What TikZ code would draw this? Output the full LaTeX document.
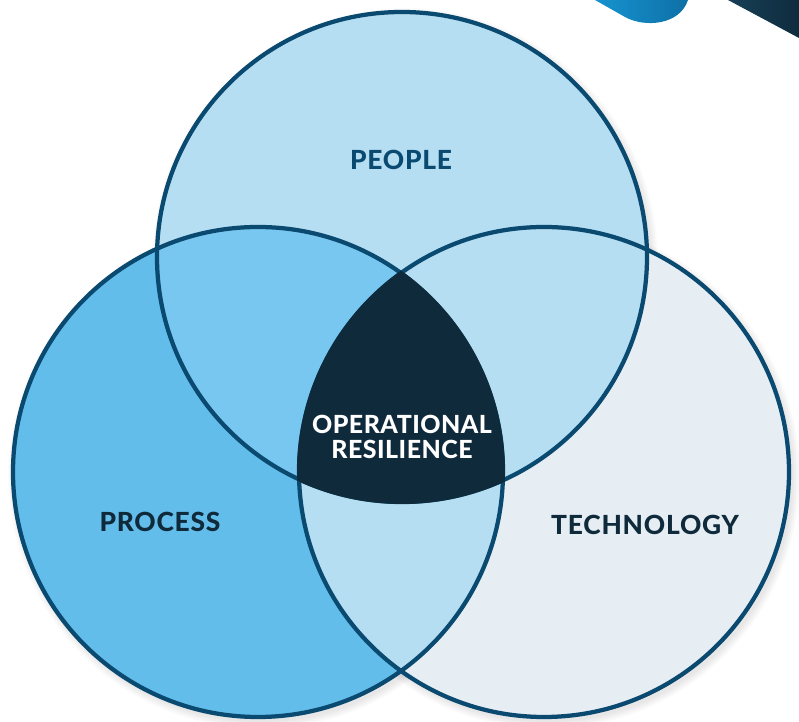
\documentclass[tikz,border=0pt]{standalone}
\usepackage{fontspec}
\setmainfont{Lato}[BoldFont={Lato Heavy}]
\usetikzlibrary{positioning}
\definecolor{ringline}{HTML}{0B4A70}
\definecolor{peoplefill}{HTML}{B5DEF3}
\definecolor{processfill}{HTML}{63BDEB}
\definecolor{techfill}{HTML}{E6EEF3}
\definecolor{pairfill}{HTML}{77C7F0}
\definecolor{corefill}{HTML}{0E2A3B}
\definecolor{labeldark}{HTML}{0F2A3A}
\definecolor{accentA}{HTML}{1693D0}
\definecolor{accentB}{HTML}{0E70A6}
\definecolor{navyA}{HTML}{173F57}
\definecolor{navyB}{HTML}{0F2C3D}
\tikzset{
  ring/.style={draw=ringline, line width=0.085cm},
  setlabel/.style={font=\bfseries\fontsize{15}{16}\selectfont\addfontfeatures{LetterSpace=3}, text=labeldark, inner sep=0pt},
  corelabel/.style={font=\bfseries\fontsize{14.2}{14.2}\selectfont\addfontfeatures{LetterSpace=2}, text=white, align=center, inner sep=0pt}
}

\begin{document}
\begin{tikzpicture}[x=0.02cm, y=-0.02cm]
\useasboundingbox (0,0) rectangle (799,722);
\def\rr{245}
\coordinate (cP) at (402,257);
\coordinate (cR) at (258,472);
\coordinate (cT) at (544,472);
% corner accents (top right)
\shade[left color=accentA, right color=accentB] (595,0) -- (625,17) .. controls (645,28) and (680,25) .. (688,0) -- cycle;
\shade[left color=navyA, right color=navyB] (728,0) -- (799,38) -- (799,0) -- cycle;
% soft shadow
\foreach \k in {1,...,8}{
  \fill[black, opacity=0.012] ([shift={(3,4)}]cP) circle[radius={\rr+\k}];
  \fill[black, opacity=0.012] ([shift={(3,4)}]cR) circle[radius={\rr+\k}];
  \fill[black, opacity=0.012] ([shift={(3,4)}]cT) circle[radius={\rr+\k}];
}
% sets
\fill[techfill] (cT) circle[radius=\rr];
\fill[processfill] (cR) circle[radius=\rr];
\fill[peoplefill] (cP) circle[radius=\rr];
% overlaps
\begin{scope}
  \clip (cP) circle[radius=\rr];
  \fill[pairfill] (cR) circle[radius=\rr];
\end{scope}
\begin{scope}
  \clip (cR) circle[radius=\rr];
  \fill[peoplefill] (cT) circle[radius=\rr];
\end{scope}
% outlines
\draw[ring] (cT) circle[radius=\rr];
\draw[ring] (cR) circle[radius=\rr];
\draw[ring] (cP) circle[radius=\rr];
% core
\begin{scope}
  \clip (cP) circle[radius={\rr+2}];
  \clip (cR) circle[radius={\rr+2}];
  \fill[corefill] (cT) circle[radius={\rr+2}];
\end{scope}
% labels
\node[setlabel, text=ringline] (people) at (401,160) {PEOPLE};
\node[setlabel] (process) at (160,522) {PROCESS};
\node[setlabel] (tech) at (645,525) {TECHNOLOGY};
\node[corelabel] (core) at (402,437) {OPERATIONAL\\RESILIENCE};
\end{tikzpicture}
\end{document}
